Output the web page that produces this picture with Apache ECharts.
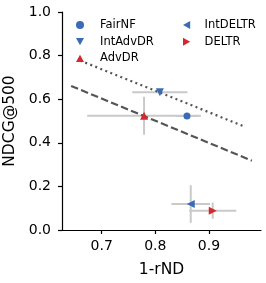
<!DOCTYPE html>
<html><head><meta charset="utf-8">
<script src="https://cdn.jsdelivr.net/npm/echarts@6/dist/echarts.min.js"></script>
<style>html,body{margin:0;padding:0;background:#fff}#c{width:266px;height:283px}</style>
</head><body><div id="c"></div>
<script>
const methods = ['FairNF', 'IntAdvDR', 'AdvDR', 'IntDELTR', 'DELTR'];
const xMean = [0.859, 0.8085, 0.779, 0.866, 0.907];
const yMean = [0.523, 0.632, 0.524, 0.119, 0.0885];
const xErr = [0.021, 0.0515, 0.106, 0.036, 0.044];
const yErr = [0.008, 0.004, 0.087, 0.086, 0.037];
const symbols = ['circle', 'triangle', 'triangle', 'triangle', 'triangle'];
const rotations = [0, 180, 0, 90, -90];
const legendIcons = ['circle', 'path://M0,0 L10,0 L5,9 Z', 'path://M5,0 L10,9 L0,9 Z',
  'path://M9,0 L9,10 L0,5 Z', 'path://M0,0 L0,10 L9,5 Z'];
const colors = ['#3a6cb5', '#3a6cb5', '#d3282e', '#3a6cb5', '#d3282e'];
const sizes = [7, 8, 8, 8, 8];
const dottedLine = [[0.66, 0.777], [0.967, 0.474]];
const dashedLine = [[0.643, 0.661], [0.98, 0.318]];
const xTicks = [0.7, 0.8, 0.9];

const FONT = 'DejaVu Sans';
const errData = methods.map((m, i) => [xMean[i], yMean[i], xErr[i], yErr[i]]);

const series = [{
  type: 'custom', name: 'err', silent: true, z: 1,
  data: errData,
  renderItem: function (params, api) {
    const x = api.value(0), y = api.value(1), ex = api.value(2), ey = api.value(3);
    const a = api.coord([x - ex, y]), b = api.coord([x + ex, y]);
    const c = api.coord([x, y - ey]), d = api.coord([x, y + ey]);
    const st = {stroke: '#c9c9c9', lineWidth: 2};
    return {type: 'group', children: [
      {type: 'line', shape: {x1: a[0], y1: a[1], x2: b[0], y2: b[1]}, style: st},
      {type: 'line', shape: {x1: c[0], y1: c[1], x2: d[0], y2: d[1]}, style: st}
    ]};
  }
}, {
  type: 'line', data: dottedLine, symbol: 'none', z: 2, silent: true,
  lineStyle: {color: '#555555', width: 2.2, type: [2, 3.4]}
}, {
  type: 'line', data: dashedLine, symbol: 'none', z: 2, silent: true,
  lineStyle: {color: '#555555', width: 2.2, type: [7.5, 3.3]}
}];
methods.forEach((m, i) => {
  series.push({
    type: 'scatter', name: m, z: 3,
    data: [[xMean[i], yMean[i]]],
    symbol: symbols[i], symbolRotate: rotations[i], symbolSize: sizes[i],
    itemStyle: {color: colors[i], opacity: 1}
  });
});

const legendItem = i => ({name: methods[i], icon: legendIcons[i]});
const legendText = {fontFamily: FONT, fontSize: 11.5, color: '#000', lineHeight: 12};
const chart = echarts.init(document.getElementById('c'), null, {renderer: 'canvas'});
chart.setOption({
  animation: false,
  backgroundColor: '#fff',
  grid: {left: 62, right: 5, top: 12, bottom: 53, containLabel: false, outerBoundsMode: 'none'},
  legend: [{
    left: 76, top: 19, orient: 'vertical', itemWidth: 8, itemHeight: 8, itemGap: 4.7,
    data: [legendItem(0), legendItem(1), legendItem(2)], selectedMode: false, padding: 0,
    textStyle: Object.assign({padding: [0, 0, 0, 11]}, legendText)
  }, {
    left: 183, top: 19, orient: 'vertical', itemWidth: 8, itemHeight: 8, itemGap: 4.7,
    data: [legendItem(3), legendItem(4)], selectedMode: false, padding: 0,
    textStyle: Object.assign({padding: [0, 0, 0, 9]}, legendText)
  }],
  xAxis: {
    type: 'value', min: 0.626, max: 0.997,
    name: '1-rND', nameLocation: 'middle', nameGap: 32,
    nameTextStyle: {fontFamily: FONT, fontSize: 15.5, color: '#000'},
    axisLine: {show: true, lineStyle: {color: '#000', width: 1.2}},
    axisTick: {show: true, length: 4, lineStyle: {color: '#000', width: 1.2}, customValues: xTicks},
    axisLabel: {fontFamily: FONT, fontSize: 14, color: '#000', margin: 9, customValues: xTicks,
      formatter: v => v.toFixed(1)},
    splitLine: {show: false}
  },
  yAxis: {
    type: 'value', min: 0, max: 1, interval: 0.2,
    name: 'NDCG@500', nameLocation: 'middle', nameGap: 43,
    nameTextStyle: {fontFamily: FONT, fontSize: 15.5, color: '#000'},
    axisLine: {show: true, lineStyle: {color: '#000', width: 1.2}},
    axisTick: {show: true, length: 4, lineStyle: {color: '#000', width: 1.2}},
    axisLabel: {fontFamily: FONT, fontSize: 14, color: '#000', margin: 11,
      formatter: v => v.toFixed(1)},
    splitLine: {show: false}
  },
  series: series
});
</script></body></html>
